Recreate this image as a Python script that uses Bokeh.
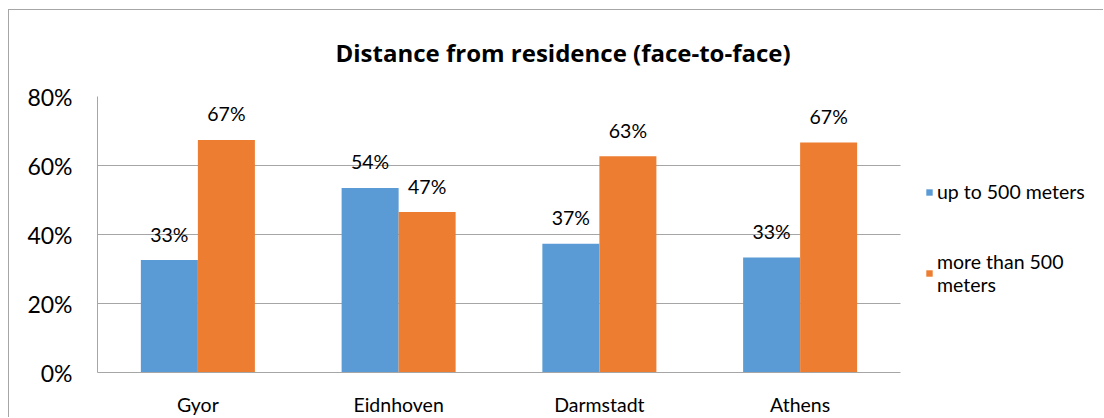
import math
from bokeh.plotting import figure
from bokeh.models import (ColumnDataSource, Range1d, NumeralTickFormatter, Legend,
                          LegendItem, Title, FixedTicker, Grid)
from bokeh.core.properties import value
from bokeh.embed import file_html
from bokeh.resources import INLINE

cities = ["Gyor", "Eidnhoven", "Darmstadt", "Athens"]
up_to_500 = [0.326, 0.535, 0.373, 0.333]
more_500 = [0.674, 0.465, 0.627, 0.667]
series_names = ["up to 500 meters", "more than 500\nmeters"]
title_text = "Distance from residence (face-to-face)"
y_ticks = [0, 0.2, 0.4, 0.6, 0.8]

def pct(v):
    return f"{math.floor(v * 100 + 0.5 + 1e-9)}%"

n = len(cities)
centers = [i + 0.5 for i in range(n)]
bw = 0.284

src = ColumnDataSource(dict(
    xa=[c - bw / 2 for c in centers], xb=[c + bw / 2 for c in centers],
    a=up_to_500, b=more_500,
    la=[pct(v) for v in up_to_500], lb=[pct(v) for v in more_500],
))

FONT = "Lato"
BLUE = "#5B9BD5"
ORANGE = "#ED7D31"
GRID = "#A6A6A6"

W, H = 1095, 408
LEFT, TOP, BOTTOM = 88, 86, 45
PLOT_W = 803  # width of the category area
frame_w = W - LEFT
x_end = n * frame_w / PLOT_W

p = figure(x_range=Range1d(0, x_end), y_range=Range1d(0, 0.8),
           width=W, height=H, output_backend="svg", toolbar_location=None,
           min_border_left=LEFT, min_border_top=TOP, min_border_bottom=BOTTOM, min_border_right=0)
p.styles = {"margin-left": "8px", "margin-top": "9px",
            "border-left": "1px solid #A6A6A6", "border-top": "1px solid #A6A6A6"}
p.outline_line_color = None

r1 = p.vbar(x="xa", top="a", width=bw, source=src, fill_color=BLUE, line_color=None)
r2 = p.vbar(x="xb", top="b", width=bw, source=src, fill_color=ORANGE, line_color=None)

for xcol, col, lab in (("xa", "a", "la"), ("xb", "b", "lb")):
    p.text(x=xcol, y=col, text=lab, source=src,
           text_align="center", text_baseline="alphabetic", y_offset=-26,
           text_font=value(FONT), text_font_size="19.5px", text_color="#000000")

p.yaxis.ticker = FixedTicker(ticks=y_ticks)
p.yaxis.formatter = NumeralTickFormatter(format="0%")
p.yaxis.major_tick_out = 0
p.yaxis.major_tick_in = 0
p.yaxis.minor_tick_line_color = None
p.yaxis.axis_line_color = GRID
p.yaxis.major_label_standoff = 25
p.yaxis.major_label_text_font = FONT
p.yaxis.major_label_text_font_size = "23px"
p.yaxis.major_label_text_color = "#000000"

p.xaxis.ticker = FixedTicker(ticks=centers)
p.xaxis.major_label_overrides = {c: name for c, name in zip(centers, cities)}
p.xaxis.bounds = (0, n)
p.xaxis.major_tick_out = 0
p.xaxis.major_tick_in = 0
p.xaxis.minor_tick_line_color = None
p.xaxis.axis_line_color = GRID
p.xaxis.major_label_standoff = 20
p.xaxis.major_label_text_font = FONT
p.xaxis.major_label_text_font_size = "19.5px"
p.xaxis.major_label_text_color = "#000000"

p.xgrid.grid_line_color = None
if "cross_bounds" in Grid.properties():
    p.ygrid.grid_line_color = GRID
    p.ygrid.ticker = FixedTicker(ticks=y_ticks)
    p.ygrid.cross_bounds = (0, n)
else:
    p.ygrid.grid_line_color = None
    p.segment(x0=[0] * len(y_ticks), x1=[n] * len(y_ticks), y0=y_ticks, y1=y_ticks,
              line_color=GRID, line_width=1)

p.title = Title(text=title_text, align="left", offset=238, vertical_align="top",
                standoff=51, text_font="Open Sans", text_font_size="24px",
                text_font_style="bold", text_color="#000000")

legend = Legend(items=[LegendItem(label=series_names[0], renderers=[r1]),
                       LegendItem(label=series_names[1], renderers=[r2])],
                location=(828, 76), glyph_width=8, glyph_height=8, label_standoff=4,
                spacing=47, label_text_font=FONT, label_text_font_size="19.5px",
                label_text_color="#000000", border_line_color=None,
                background_fill_alpha=0, padding=0, margin=0)
p.add_layout(legend)

open("out.html", "w").write(file_html(p, INLINE))
